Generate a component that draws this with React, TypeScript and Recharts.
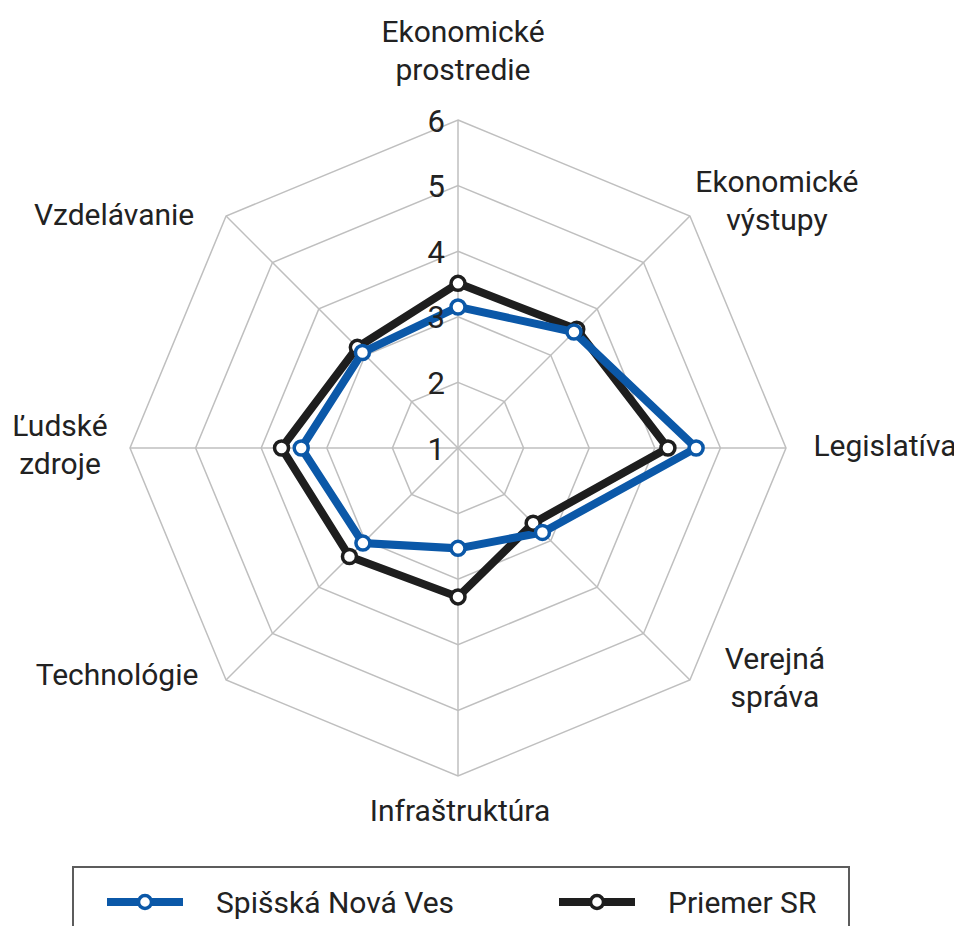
import React from 'react';
import { RadarChart, Radar, PolarGrid, PolarAngleAxis, PolarRadiusAxis } from 'recharts';

const categories = [
  'Ekonomické prostredie',
  'Ekonomické výstupy',
  'Legislatíva',
  'Verejná správa',
  'Infraštruktúra',
  'Technológie',
  'Ľudské zdroje',
  'Vzdelávanie',
];
const categoryLines = [
  ['Ekonomické', 'prostredie'],
  ['Ekonomické', 'výstupy'],
  ['Legislatíva'],
  ['Verejná', 'správa'],
  ['Infraštruktúra'],
  ['Technológie'],
  ['Ľudské', 'zdroje'],
  ['Vzdelávanie'],
];
const spisskaNovaVes = [3.15, 3.5, 4.63, 2.82, 2.53, 3.05, 3.39, 3.06];
const priemerSR = [3.51, 3.56, 4.2, 2.62, 3.27, 3.34, 3.69, 3.17];
const radiusTicks = [1, 2, 3, 4, 5, 6];

const data = categories.map((name, i) => ({
  name,
  snv: spisskaNovaVes[i],
  sr: priemerSR[i],
}));

// layout
const W = 954;
const H = 918;
const CX = 450;
const CY = 440;
const R = 328;
const BLUE = '#0b58a8';
const BLACK = '#1e1e1e';
const FONT = 'Roboto, "Liberation Sans", Arial, sans-serif';
// offset of each label block centre from its outer vertex
const labelNudge = [
  [5, -70],
  [87, -16],
  [99, -3],
  [85, -2],
  [2, 34],
  [-109, -5],
  [-70, -4],
  [-112, -2],
];

const AngleTick = (props: any) => {
  const { x, y, index } = props;
  const a = Math.atan2(CY - y, x - CX);
  const vx = CX + R * Math.cos(a);
  const vy = CY - R * Math.sin(a);
  const [dx, dy] = labelNudge[index] || [0, 0];
  const lines = categoryLines[index] || [String(props.payload?.value)];
  const lh = 38;
  const top = vy + dy - ((lines.length - 1) * lh) / 2;
  return (
    <text x={vx + dx} y={top} textAnchor="middle" fill="#222" fontSize={30} fontFamily={FONT}>
      {lines.map((l, i) => (
        <tspan key={i} x={vx + dx} y={top + i * lh} dominantBaseline="central">{l}</tspan>
      ))}
    </text>
  );
};

const RadiusTick = (props: any) => {
  const { x, y, payload } = props;
  return (
    <text x={x - 13} y={y + 1} textAnchor="end" dominantBaseline="central" fill="#222" fontSize={31} fontFamily={FONT}>
      {payload.value}
    </text>
  );
};

const LegendItem = ({ color, label, left }: { color: string; label: string; left: number }) => (
  <div style={{ position: 'absolute', left, top: 14, display: 'flex', alignItems: 'center', height: 40 }}>
    <svg width={80} height={20} style={{ display: 'block' }}>
      <line x1={1} y1={10} x2={77} y2={10} stroke={color} strokeWidth={8} />
      <circle cx={39} cy={10} r={6.5} fill="#fff" stroke={color} strokeWidth={3.5} />
    </svg>
    <span style={{ marginLeft: 30, fontSize: 30, fontFamily: FONT, color: '#222' }}>{label}</span>
  </div>
);

export default function App() {
  return (
    <div style={{ position: 'relative', width: W, height: H, background: '#fff' }}>
      <RadarChart width={W} height={H} data={data} cx={CX} cy={CY} outerRadius={R} margin={{ top: 0, right: 0, bottom: 0, left: 0 }} style={{ overflow: 'visible' }}>
        <PolarGrid gridType="polygon" stroke="#bfbfbf" strokeWidth={1.5} />
        <PolarAngleAxis dataKey="name" tick={AngleTick} tickLine={false} axisLine={false} />
        <PolarRadiusAxis
          angle={90}
          domain={[1, 6]}
          ticks={radiusTicks}
          tickCount={6}
          tick={RadiusTick}
          axisLine={false}
          tickLine={false}
        />
        <Radar
          name="Priemer SR"
          dataKey="sr"
          stroke={BLACK}
          strokeWidth={8}
          fill="none"
          fillOpacity={0}
          dot={{ r: 7, fill: '#fff', stroke: BLACK, strokeWidth: 3.5, fillOpacity: 1 }}
          isAnimationActive={false}
        />
        <Radar
          name="Spišská Nová Ves"
          dataKey="snv"
          stroke={BLUE}
          strokeWidth={8}
          fill="none"
          fillOpacity={0}
          dot={{ r: 7, fill: '#fff', stroke: BLUE, strokeWidth: 3.5, fillOpacity: 1 }}
          isAnimationActive={false}
        />
      </RadarChart>
      <div
        style={{
          position: 'absolute',
          left: 64,
          top: 858,
          width: 774,
          height: 90,
          border: '2px solid #5c5c5c',
          background: '#fff',
        }}
      >
        <LegendItem color={BLUE} label="Spišská Nová Ves" left={32} />
        <LegendItem color={BLACK} label="Priemer SR" left={484} />
      </div>
    </div>
  );
}
